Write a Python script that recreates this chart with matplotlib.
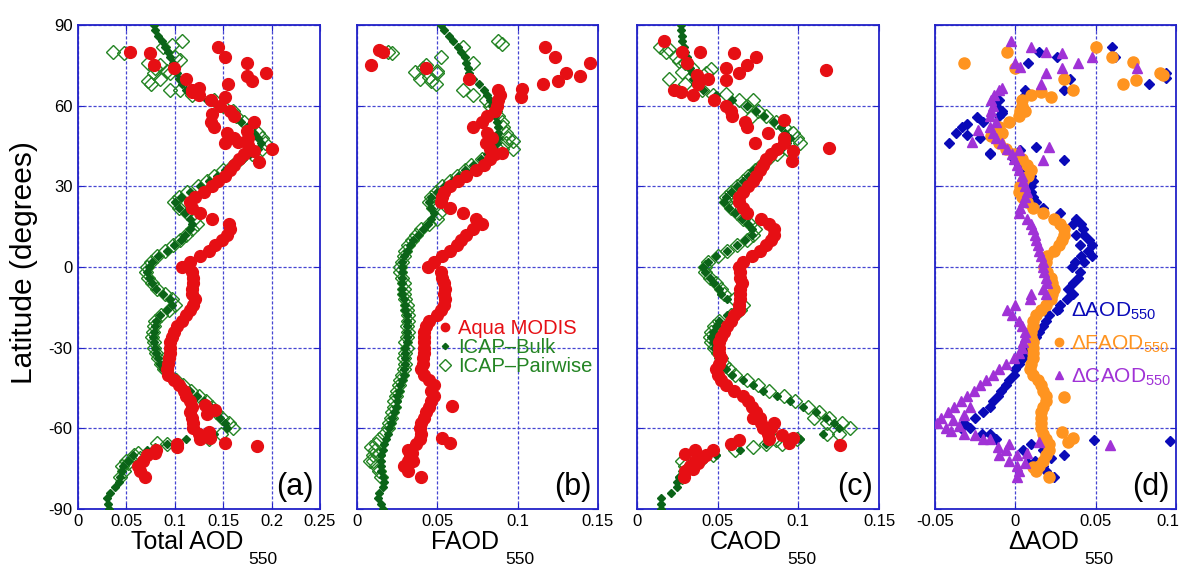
import numpy as np
import matplotlib
matplotlib.use('Agg')
import matplotlib.pyplot as plt
import matplotlib.transforms as mtransforms
from matplotlib import font_manager

nan = np.nan

# latitude bins of the zonal means (2 degree steps, north to south)
lat = np.arange(90, -91, -2)

# ---- panel (a): total AOD550 ----
modis_a = [nan, nan, nan, nan, .145, .054, .152, .175, .099, .194,
           .112, .155, .118, .125, .137, .147, .157, .161, .137, .140,
           .154, .161, .152, .200, .171, .166, .161, .157, .152, .145,
           .138, .130, .121, .116, .118, .126, .138, .156, .157, .154,
           .149, .142, .135, .126, .116, .107, .118, .119, .119, .118,
           .118, .121, .119, .116, .112, .107, .102, .099, .097, .095,
           .095, .095, .094, .093, .092, .093, .099, .104, .109, .112,
           .116, .118, .116, .118, .119, .119, .125, .126, .102, .081,
           .071, .067, .062, .064, .069, nan, nan, nan, nan, nan,
           nan]
bulk_a = [.078, .080, .083, .087, .090, .093, .095, .098, .100, .102,
          .104, .107, .112, .122, .133, .146, .157, .163, .168, .175,
          .182, .186, .189, .186, .178, .170, .161, .152, .144, .135,
          .126, .116, .106, .100, .104, .111, .116, .118, .116, .111,
          .106, .099, .092, .083, .076, .073, .071, .073, .076, .081,
          .088, .095, .097, .092, .085, .081, .080, .078, .077, .078,
          .080, .081, .083, .085, .088, .093, .100, .107, .116, .123,
          .130, .137, .142, .147, .152, .154, .140, .112, .092, .071,
          .057, .052, .047, .045, .043, .042, .038, .033, .030, .031,
          .032]
pair_a = [nan, nan, nan, .107, .088, .036, .100, .072, .080, .078,
          .085, .075, .105, .118, .140, .150, .160, .163, .172, .178,
          .186, .190, .193, .190, .180, .167, .160, .150, .140, .133,
          .124, .113, .104, .099, .104, .113, .120, .123, .118, .112,
          .105, .098, .090, .082, .075, .071, .070, .072, .076, .082,
          .090, .097, .100, .094, .086, .080, .078, .077, .076, .078,
          .079, .081, .083, .086, .089, .094, .101, .108, .117, .125,
          .132, .138, .143, .149, .156, .160, .148, .135, .092, .080,
          .058, .050, .045, .048, .043, nan, nan, nan, nan, nan,
          nan]
modis_a_extra = [(79.5, .074), (75.1, .079), (71.0, .175), (69.2, .180), (66.5, .125),
                 (65.0, .118), (63.3, .152), (57.0, .138), (54.0, .182), (50.5, .175),
                 (48.0, .176), (45.2, .176), (43.0, .182), (39.2, .187), (46.5, .165),
                 (-51.5, .131), (-53.0, .142), (-54.5, .133), (-61.5, .135), (-63.5, .136),
                 (-65.3, .152), (-66.6, .185), (-67.0, .102), (-69.0, .080)]
pair_a_extra = [(79.5, .048), (75.0, .085), (73.0, .092), (69.0, .072), (72.0, .095),
                (82.5, .097), (77.0, .105), (66.0, .095), (-65.5, .082), (-69.0, .062),
                (-71.0, .064), (-73.0, .052)]

# ---- panel (b): fine-mode AOD550 ----
modis_b = [nan, nan, nan, nan, .117, .016, .123, .145, .043, .130,
           .070, .116, .088, .089, .088, .087, .086, .081, .078, .072,
           .081, .084, .080, .083, .086, .083, .079, .074, .068, .063,
           .058, .054, .053, .052, .058, .066, .074, .078, .072, .068,
           .065, .062, .058, .053, .048, .044, .052, .053, .054, .055,
           .054, .055, .054, .052, .050, .045, .043, .042, .042, .042,
           .042, .042, .041, .041, .040, .042, .045, .048, .046, .048,
           .046, .045, .043, .042, .040, .039, .040, .039, .037, .032,
           .033, .032, .031, .032, .040, nan, nan, nan, nan, nan,
           nan]
bulk_b = [.052, .054, .057, .060, .063, .065, .067, .068, .069, .070,
          .072, .076, .079, .081, .083, .084, .085, .086, .087, .088,
          .088, .088, .087, .085, .081, .077, .072, .067, .063, .059,
          .054, .050, .046, .045, .046, .048, .046, .044, .041, .038,
          .035, .033, .031, .029, .028, .028, .028, .028, .028, .028,
          .028, .029, .030, .030, .031, .031, .031, .031, .031, .031,
          .030, .030, .030, .030, .029, .029, .028, .027, .026, .025,
          .025, .024, .023, .022, .021, .020, .019, .018, .017, .016,
          .015, .015, .015, .015, .016, .017, .016, .014, .013, .015,
          .016]
pair_b = [nan, nan, nan, .088, .066, .0195, .052, .072, .041, .050,
          .039, .049, .066, .072, .080, .083, .086, .088, .090, .091,
          .093, .094, .093, .090, .084, .078, .071, .067, .062, .058,
          .053, .049, .046, .045, .047, .051, .050, .045, .040, .037,
          .034, .032, .030, .029, .028, .027, .027, .028, .029, .029,
          .029, .030, .031, .031, .032, .032, .031, .032, .031, .030,
          .031, .030, .029, .030, .029, .028, .027, .026, .025, .024,
          .023, .023, .022, .021, .020, .019, .017, .014, .012, .011,
          .010, .010, .012, .014, .015, nan, nan, nan, nan, nan,
          nan]
modis_b_extra = [(75.1, .009), (80.8, .014), (71.0, .139), (69.3, .125), (66.1, .103),
                 (63.1, .102), (42.5, .090), (-51.8, .059), (-63.5, .053), (-65.5, .058),
                 (-69.0, .034), (-72.0, .035), (-74.0, .029)]
pair_b_extra = [(79.5, .022), (75.0, .043), (70.8, .045), (73.0, .050), (69.0, .046),
                (83.0, .090), (72.5, .036), (47.0, .097), (44.0, .097), (-67.0, .009),
                (-70.0, .013), (-72.0, .008)]

# ---- panel (c): coarse-mode AOD550 ----
modis_c = [nan, nan, nan, .017, nan, .028, .074, .031, .055, .063,
           .044, .038, .023, .035, .048, .055, .058, .059, .067, .068,
           .081, .091, .091, .087, .083, .080, .078, .076, .074, .072,
           .069, .066, .063, .063, .066, .068, .077, .082, .085, .085,
           .083, .080, .076, .071, .066, .063, .064, .064, .065, .064,
           .064, .064, .063, .063, .060, .058, .056, .054, .052, .051,
           .051, .051, .052, .051, .049, .050, .052, .055, .060, .066,
           .069, .071, .074, .076, .077, .078, .081, .082, .058, .047,
           .043, .036, .033, .030, .029, nan, nan, nan, nan, nan,
           nan]
bulk_c = [.027, .027, .028, .028, .029, .030, .031, .032, .033, .034,
          .035, .036, .041, .049, .059, .068, .074, .079, .085, .089,
          .092, .095, .093, .089, .085, .080, .076, .072, .069, .066,
          .062, .058, .055, .054, .057, .061, .065, .069, .071, .071,
          .067, .062, .056, .049, .044, .041, .042, .045, .048, .051,
          .052, .056, .062, .061, .056, .051, .049, .047, .046, .047,
          .048, .050, .051, .052, .055, .059, .066, .072, .078, .087,
          .095, .103, .111, .117, .122, .125, .115, .101, .080, .064,
          .049, .041, .035, .030, .026, .025, .025, .021, .015, .015,
          .015]
pair_c = [nan, nan, nan, nan, .014, .018, .024, .030, .034, .043,
          .020, .030, .040, .047, .063, .068, .075, .080, .086, .091,
          .097, .099, .101, .093, .087, .081, .077, .073, .069, .066,
          .062, .058, .055, .055, .058, .062, .066, .070, .073, .072,
          .068, .062, .056, .050, .044, .042, .042, .045, .049, .052,
          .054, .060, .066, .064, .058, .051, .048, .046, .045, .046,
          .048, .050, .052, .054, .057, .061, .068, .075, .082, .091,
          .098, .106, .113, .119, .127, .132, .118, .099, .080, .061,
          .047, .038, .033, .030, .028, nan, nan, nan, nan, nan,
          nan]
modis_c_extra = [(80.1, .039), (79.5, .060), (75.1, .068), (71.4, .037), (69.5, .055),
                 (65.2, .027), (73.3, .117), (54.7, .091), (44.1, .119), (46.2, .073),
                 (43.2, .097), (39.5, .096), (-56.0, .072), (-58.0, .085), (-60.0, .083),
                 (-62.5, .090), (-63.5, .097), (-65.5, .094), (-66.2, .126), (-64.5, .063),
                 (-68.0, .036), (-69.5, .030), (-71.0, .040), (-73.0, .038), (-75.0, .035)]
pair_c_extra = [(81.0, .020), (76.5, .026), (73.5, .046), (72.5, .028), (69.0, .039),
                (64.5, .055), (62.0, .072), (56.0, .071), (-56.0, .110), (-58.0, .118),
                (-62.0, .125), (-64.5, .086), (-66.0, .090), (-67.0, .072), (-72.0, .028),
                (-74.0, .030)]

# ---- panel (d): MODIS minus ICAP differences ----
d_aod = [nan, nan, nan, nan, .060, .015, .026, .008, nan, .094,
         .034, .083, .030, .006, -.010, -.012, -.008, -.010, -.020, -.033,
         -.037, -.022, -.041, -.005, -.016, -.001, .002, .006, .010, .011,
         .010, .010, .011, .013, .017, .028, .038, .041, .042, .043,
         .046, .048, .045, .041, .037, .035, .040, .039, .036, .033,
         .036, .032, .028, .026, .021, .019, .017, .015, .013, .011,
         .009, .007, .005, .002, .000, -.001, -.004, -.006, -.009, -.011,
         -.014, -.016, -.020, -.025, -.032, -.034, -.016, -.012, .010, .017,
         .030, .012, .017, .019, .024, nan, nan, nan, nan, nan,
         nan]
d_faod = [nan, nan, nan, nan, .050, -.005, .060, -.032, .000, .090,
          .030, .067, .036, .010, .004, .004, .003, .002, -.004, -.010,
          -.008, -.012, -.010, -.006, -.001, .004, .007, .010, .008, .005,
          .003, .002, .004, .007, .011, .017, .024, .028, .030, .030,
          .029, .027, .024, .020, .019, .018, .020, .022, .023, .024,
          .023, .022, .019, .016, .013, .011, .011, .010, .010, .011,
          .011, .011, .011, .010, .009, .011, .014, .016, .017, .019,
          .019, .017, .016, .016, .016, .016, .017, .019, .021, .021,
          .019, .017, .015, .013, .021, nan, nan, nan, nan, nan,
          nan]
d_caod = [nan, nan, nan, -.0025, .010, .019, .048, .000, .029, .019,
          nan, .016, -.010, -.013, -.015, -.014, -.015, -.016, -.012, -.016,
          -.014, -.012, -.008, -.005, -.002, -.001, .001, .002, .004, .005,
          .006, .007, .006, .005, .003, .002, .007, .010, .011, .012,
          .013, .014, .015, .016, .017, .017, .018, .019, .020, .017,
          .010, .009, .000, -.005, -.002, .002, .004, .006, .006, .005,
          .004, .002, -.001, -.006, -.010, -.014, -.018, -.022, -.026, -.030,
          -.034, -.038, -.042, -.046, -.049, -.043, -.032, -.016, -.004, -.006,
          .001, -.004, .001, .002, .001, nan, nan, nan, nan, nan,
          nan]
d_aod_extra = [(78.2, .062), (70.2, .094), (65.8, .006), (57.2, -.008), (55.9, -.024),
               (53.0, -.030), (44.8, .013), (43.5, .003), (39.8, .030), (42.3, -.016),
               (49.0, -.030), (16.0, .036), (12.0, .038), (8.0, .040), (4.0, .048),
               (2.0, .043), (-64.5, .049), (-64.7, .096), (-62.0, -.021), (-60.0, -.028),
               (-68.0, .005), (-71.0, .022), (-73.0, .008)]
d_faod_extra = [(76.4, .073), (69.5, .075), (71.4, .092), (63.3, .022), (65.2, .016),
                (48.6, -.015), (58.0, .006), (-48.5, .030), (-61.5, .029), (-63.5, .036),
                (-65.0, .033), (-74.5, .011)]
d_caod_extra = [(79.5, .029), (74.5, .003), (75.7, .039), (73.9, .076), (66.4, -.008),
                (46.6, -.027), (51.0, -.023), (43.5, .002), (44.8, .021), (39.8, .017),
                (-10.0, .019), (-52.0, -.028), (-55.0, -.032), (-57.0, -.039), (-59.0, -.035),
                (-61.0, -.040), (-62.5, -.025), (-64.0, -.020), (-66.2, .059), (-64.9, .015),
                (-67.0, -.011), (-69.0, .007), (-70.0, -.010), (-73.0, .006)]

lat_ticks = [-90, -60, -30, 0, 30, 60, 90]
lat_tick_labels = ['-90', '-60', '-30', '0', '30', '60', '90']

RED = '#E60F14'
GREEN = '#238423'
DKGREEN = '#0B6418'
BLUE = '#0A0AB8'
ORANGE = '#FF9420'
PURPLE = '#A032D6'
AXCOL = '#2222C8'
GRIDCOL = '#4646D2'


def pick_font(names, fallback='DejaVu Sans'):
    have = {f.name for f in font_manager.fontManager.ttflist}
    for n in names:
        if n in have:
            return n
    return fallback


MAIN_FONT = pick_font(['Liberation Sans', 'Arial'])
TICK_FONT = pick_font(['Liberation Sans Narrow'], MAIN_FONT)
TICK_SIZE = 13.5 if TICK_FONT != MAIN_FONT else 12

plt.rcParams['font.family'] = [MAIN_FONT, 'DejaVu Sans']
plt.rcParams['mathtext.fontset'] = 'custom'
plt.rcParams['mathtext.rm'] = MAIN_FONT
plt.rcParams['mathtext.it'] = MAIN_FONT + ':italic'


def draw_profile(ax, vals, extra, **style):
    xs = list(vals) + [v for _, v in extra]
    ys = list(lat) + [l for l, _ in extra]
    ax.plot(xs, ys, ls='none', **style)


def style_axes(ax, xlim, xticks, xlabels, ylabels):
    ax.set_xlim(*xlim)
    ax.set_ylim(-90, 90)
    ax.set_xticks(xticks)
    ax.set_xticklabels(xlabels, fontfamily=TICK_FONT, fontsize=TICK_SIZE)
    ax.set_yticks(lat_ticks)
    if ylabels:
        ax.set_yticklabels(lat_tick_labels, fontfamily=TICK_FONT, fontsize=TICK_SIZE)
    else:
        ax.set_yticklabels([])
    ax.grid(True, color=GRIDCOL, ls=(0, (2.5, 1.5)), lw=0.9)
    ax.set_axisbelow(True)
    for s in ax.spines.values():
        s.set_color(AXCOL)
        s.set_linewidth(1.3)
    ax.tick_params(direction='in', length=4, color=AXCOL, top=True, right=True)
    ax.tick_params(axis='x', pad=3.5)
    ax.tick_params(axis='y', pad=4)


def sub_label(ax, main, sub):
    ax.set_xlabel(main, fontsize=18)
    ax.xaxis.set_label_coords(0.45, -0.044)
    ax.annotate(sub, xy=(1, 0), xycoords=ax.xaxis.label, xytext=(4, 2),
                textcoords='offset points', ha='left', va='top', fontsize=12.5)


def panel_tag(ax, tag):
    ax.text(0.975, 0.015, tag, transform=ax.transAxes, ha='right', va='bottom', fontsize=22)


def icap_panel(ax, modis, modis_x, bulk, pair, pair_x):
    draw_profile(ax, pair, pair_x, marker='D', ms=7.0, mfc='none', mec=GREEN, mew=1.0, zorder=2)
    draw_profile(ax, bulk, [], marker='D', ms=3.9, color=DKGREEN, mec=DKGREEN, zorder=3)
    draw_profile(ax, modis, modis_x, marker='o', ms=8.5, color=RED, mec=RED, zorder=4)


fig = plt.figure(figsize=(11.84, 5.75), dpi=100)
W, H = 1184, 575
bottom = (575 - 509) / H
height = 484 / H
ax_a = fig.add_axes([78 / W, bottom, 242 / W, height])
ax_b = fig.add_axes([357 / W, bottom, 241 / W, height])
ax_c = fig.add_axes([637 / W, bottom, 242 / W, height])
ax_d = fig.add_axes([935 / W, bottom, 241 / W, height])

# (a)
icap_panel(ax_a, modis_a, modis_a_extra, bulk_a, pair_a, pair_a_extra)
style_axes(ax_a, (0, 0.25), [0, .05, .1, .15, .2, .25],
           ['0', '0.05', '0.1', '0.15', '0.2', '0.25'], True)
ax_a.set_ylabel('Latitude (degrees)', fontsize=21.5)
ax_a.yaxis.set_label_coords(-0.165, 0.51)
sub_label(ax_a, 'Total AOD', '550')
panel_tag(ax_a, '(a)')

# (b)
icap_panel(ax_b, modis_b, modis_b_extra, bulk_b, pair_b, pair_b_extra)
style_axes(ax_b, (0, 0.15), [0, .05, .1, .15], ['0', '0.05', '0.1', '0.15'], False)
sub_label(ax_b, 'FAOD', '550')
panel_tag(ax_b, '(b)')
hb = [plt.Line2D([], [], ls='none', marker='o', ms=6, color=RED),
      plt.Line2D([], [], ls='none', marker='D', ms=3.2, color=DKGREEN),
      plt.Line2D([], [], ls='none', marker='D', ms=6.5, mfc='none', mec=GREEN, mew=1.0)]
leg = ax_b.legend(hb, ['Aqua MODIS', 'ICAP\u2013Bulk', 'ICAP\u2013Pairwise'],
                  loc='upper left', bbox_to_anchor=(0.335, 0.392), frameon=False,
                  fontsize=14.5, handlelength=0.7, handletextpad=0.3, borderpad=0,
                  borderaxespad=0, labelspacing=0.0, labelcolor=[RED, GREEN, GREEN])
leg.set_zorder(6)

# (c)
icap_panel(ax_c, modis_c, modis_c_extra, bulk_c, pair_c, pair_c_extra)
style_axes(ax_c, (0, 0.15), [0, .05, .1, .15], ['0', '0.05', '0.1', '0.15'], False)
sub_label(ax_c, 'CAOD', '550')
panel_tag(ax_c, '(c)')

# (d)
draw_profile(ax_d, d_aod, d_aod_extra, marker='D', ms=4.8, color=BLUE, mec=BLUE, zorder=2)
draw_profile(ax_d, d_faod, d_faod_extra, marker='o', ms=8.0, color=ORANGE, mec=ORANGE, zorder=3)
draw_profile(ax_d, d_caod, d_caod_extra, marker='^', ms=7.0, color=PURPLE, mec=PURPLE, zorder=4)
style_axes(ax_d, (-0.05, 0.1), [-.05, 0, .05, .1], ['-0.05', '0', '0.05', '0.1'], False)
# keep the last tick label inside the figure, as in the original
last = ax_d.get_xticklabels()[-1]
last.set_transform(last.get_transform() + mtransforms.ScaledTranslation(-6 / 72, 0, fig.dpi_scale_trans))
sub_label(ax_d, '\u0394AOD', '550')
panel_tag(ax_d, '(d)')
hd = [plt.Line2D([], [], ls='none', marker='D', ms=4.2, color=BLUE),
      plt.Line2D([], [], ls='none', marker='o', ms=6, color=ORANGE),
      plt.Line2D([], [], ls='none', marker='^', ms=5.5, color=PURPLE)]
leg_d = ax_d.legend(hd, ['\u0394AOD$_{550}$', '\u0394FAOD$_{550}$', '\u0394CAOD$_{550}$'],
                    loc='upper left', bbox_to_anchor=(0.49, 0.43), frameon=False,
                    fontsize=15, handlelength=0.6, handletextpad=0.25, borderpad=0,
                    borderaxespad=0, labelspacing=0.55, labelcolor=[BLUE, ORANGE, PURPLE])
leg_d.set_zorder(6)

fig.savefig('out.png', dpi=100)
